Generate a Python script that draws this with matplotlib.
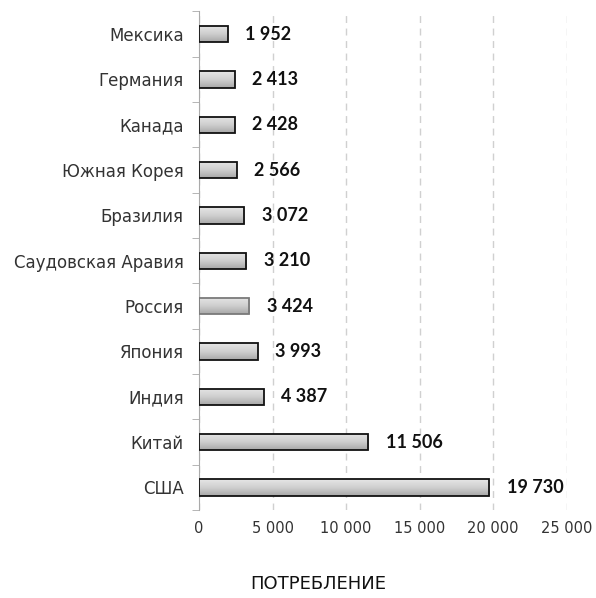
import numpy as np
import matplotlib.pyplot as plt
from matplotlib.patches import Rectangle

countries = ["Мексика", "Германия", "Канада", "Южная Корея", "Бразилия",
             "Саудовская Аравия", "Россия", "Япония", "Индия", "Китай", "США"]
values = [1952, 2413, 2428, 2566, 3072, 3210, 3424, 3993, 4387, 11506, 19730]
xticks = [0, 5000, 10000, 15000, 20000, 25000]
xlabels = ["0", "5 000", "10 000", "15 000", "20 000", "25 000"]
title_x = "ПОТРЕБЛЕНИЕ"

fig = plt.figure(figsize=(5.96, 5.98), dpi=100)
ax = fig.add_axes([0.334, 0.147, 0.617, 0.834])

n = len(countries)
ypos = np.arange(n)[::-1]  # Mexico on top
h = 0.36

# vertical gradient used for bar fill (light top -> darker bottom)
grad = np.linspace(0, 1, 64).reshape(-1, 1)
cmap = plt.matplotlib.colors.LinearSegmentedColormap.from_list(
    "g", ["#e6e6e6", "#cfcfcf", "#a8a8a8"])

for y, v, c in zip(ypos, values, countries):
    ec = "#7a7a7a" if c == "Россия" else "#111111"
    rect = Rectangle((0, y - h / 2), v, h, facecolor="none", edgecolor=ec,
                     linewidth=1.3, zorder=4)
    ax.add_patch(rect)
    im = ax.imshow(grad, cmap=cmap, aspect="auto", origin="upper",
                   extent=[0, v, y - h / 2, y + h / 2], zorder=3)
    im.set_clip_path(rect)
    ax.text(v + 1200, y, f"{v:,}".replace(",", " "), va="center", ha="left",
            fontsize=13, fontweight="bold", family=["Lato", "DejaVu Sans"],
            color="#111111")

ax.set_xlim(0, 25000)
ax.set_ylim(-0.5, n - 0.5)
ax.set_xticks(xticks)
ax.set_xticklabels(xlabels, fontsize=10.5, color="#333333", family="DejaVu Sans")
ax.set_yticks(ypos)
ax.set_yticklabels(countries, fontsize=12, color="#333333", family="DejaVu Sans")
ax.set_yticks(np.arange(-0.5, n, 1), minor=True)
ax.tick_params(axis="y", which="major", length=0, pad=11)
ax.tick_params(axis="y", which="minor", length=5, color="#aaaaaa")
ax.tick_params(axis="x", length=0, pad=8)

for s in ["top", "right", "bottom"]:
    ax.spines[s].set_visible(False)
ax.spines["left"].set_color("#aaaaaa")

ax.xaxis.grid(True, linestyle=(0, (5, 4)), color="#d0d0d0", linewidth=1)
ax.set_axisbelow(True)

fig.text(0.534, 0.023, title_x, ha="center", va="center", fontsize=13,
         color="#111111", family=["Liberation Sans Narrow", "DejaVu Sans"])

fig.savefig("out.png", dpi=100)
